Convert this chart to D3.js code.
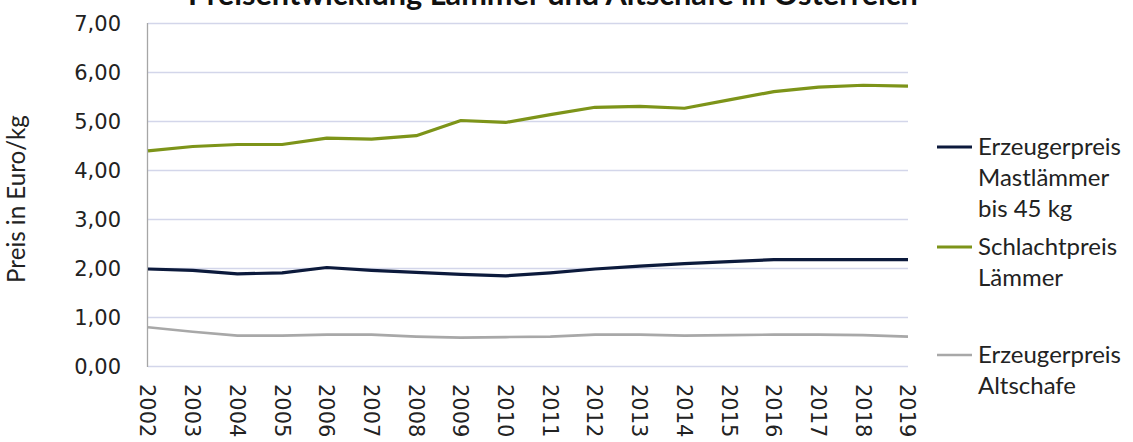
<!DOCTYPE html>
<html><head><meta charset="utf-8">
<script src="https://cdn.jsdelivr.net/npm/d3@7"></script>
<style>html,body{margin:0;padding:0;background:#fff;overflow:hidden}</style>
</head><body>
<svg id="c" width="1133" height="442"></svg>
<script>
const years = ["2002","2003","2004","2005","2006","2007","2008","2009","2010","2011","2012","2013","2014","2015","2016","2017","2018","2019"];
const mastlaemmer = [1.98,1.95,1.88,1.90,2.01,1.95,1.91,1.87,1.84,1.90,1.98,2.04,2.09,2.13,2.17,2.17,2.17,2.17];
const schlachtpreis = [4.39,4.48,4.52,4.52,4.65,4.63,4.70,5.01,4.97,5.13,5.28,5.30,5.26,5.43,5.60,5.69,5.73,5.71];
const altschafe = [0.79,0.70,0.62,0.62,0.64,0.64,0.60,0.58,0.59,0.60,0.64,0.64,0.62,0.63,0.64,0.64,0.63,0.60];
const yTicks = [0,1,2,3,4,5,6,7];
const seriesNames = [["Erzeugerpreis","Mastlämmer","bis 45 kg"],["Schlachtpreis","Lämmer"],["Erzeugerpreis","Altschafe"]];
const title = "Preisentwicklung Lämmer und Altschafe in Österreich";
const yLabel = "Preis in Euro/kg";

const series = [
  {values: mastlaemmer, color: "#0c1a3c", width: 3.2},
  {values: schlachtpreis, color: "#7d9419", width: 3.2},
  {values: altschafe, color: "#a8a8a8", width: 2.6}
];

const svg = d3.select("#c");
const x = d3.scalePoint().domain(years).range([148, 908]);
const y = d3.scaleLinear().domain([0, 7]).range([366, 23]);

// gridlines
svg.append("g").selectAll("line").data(yTicks).join("line")
  .attr("x1", 148).attr("x2", 908)
  .attr("y1", d => Math.round(y(d)) + 0.5).attr("y2", d => Math.round(y(d)) + 0.5)
  .attr("stroke", "#d3d6ea").attr("stroke-width", 1.3);

// left axis line
svg.append("line").attr("x1", 147.5).attr("x2", 147.5).attr("y1", y(7)).attr("y2", y(0) + 1)
  .attr("stroke", "#a6a6a6").attr("stroke-width", 1.3);

// y tick labels
const fmt = d => d.toFixed(2).replace(".", ",");
svg.append("g").selectAll("text").data(yTicks).join("text")
  .attr("x", 121).attr("y", d => y(d)).attr("dy", "0.36em")
  .attr("text-anchor", "end")
  .style("font-family", "DejaVu Sans").style("font-size", "21px").attr("fill", "#222")
  .text(fmt);

// x tick labels
svg.append("g").selectAll("text").data(years).join("text")
  .attr("transform", d => `translate(${x(d)},384) rotate(90)`)
  .attr("dy", "0.36em")
  .style("font-family", "DejaVu Sans").style("font-size", "21px").attr("fill", "#222")
  .text(d => d);

// lines
const line = d3.line().x((d, i) => x(years[i])).y(d => y(d));
svg.append("g").selectAll("path").data(series).join("path")
  .attr("d", d => line(d.values))
  .attr("fill", "none").attr("stroke", d => d.color).attr("stroke-width", d => d.width)
  .attr("stroke-linejoin", "round");

// title
const t = svg.append("text").attr("x", 553).attr("y", 5).attr("text-anchor", "middle")
  .style("font-family", "Lato").style("font-weight", "bold").style("font-size", "26px").attr("fill", "#111")
  .text(title);
const tw = t.node().getComputedTextLength();
t.style("font-size", (26 * 730 / tw) + "px");

// y label
const yl = svg.append("text").attr("transform", "translate(25,199) rotate(-90)")
  .attr("text-anchor", "middle")
  .style("font-family", "Lato").style("font-size", "20px").attr("fill", "#222")
  .text(yLabel);
const ylw = yl.node().getComputedTextLength();
yl.style("font-size", (20 * 168 / ylw) + "px");

// legend
const legendY = [147, 247, 355];
const lg = svg.append("g");
series.forEach((s, i) => {
  lg.append("line").attr("x1", 937).attr("x2", 972).attr("y1", legendY[i]).attr("y2", legendY[i])
    .attr("stroke", s.color).attr("stroke-width", s.width);
  seriesNames[i].forEach((name, j) => {
    lg.append("text").attr("x", 978).attr("y", legendY[i] + j * 31).attr("dy", "0.35em")
      .attr("class", "lt")
      .style("font-family", "Lato").style("font-size", "21px").attr("fill", "#222")
      .text(name);
  });
});
const first = lg.select("text.lt").node();
const lw = first.getComputedTextLength();
lg.selectAll("text.lt").style("font-size", (21 * 143 / lw) + "px");
</script>
</body></html>
